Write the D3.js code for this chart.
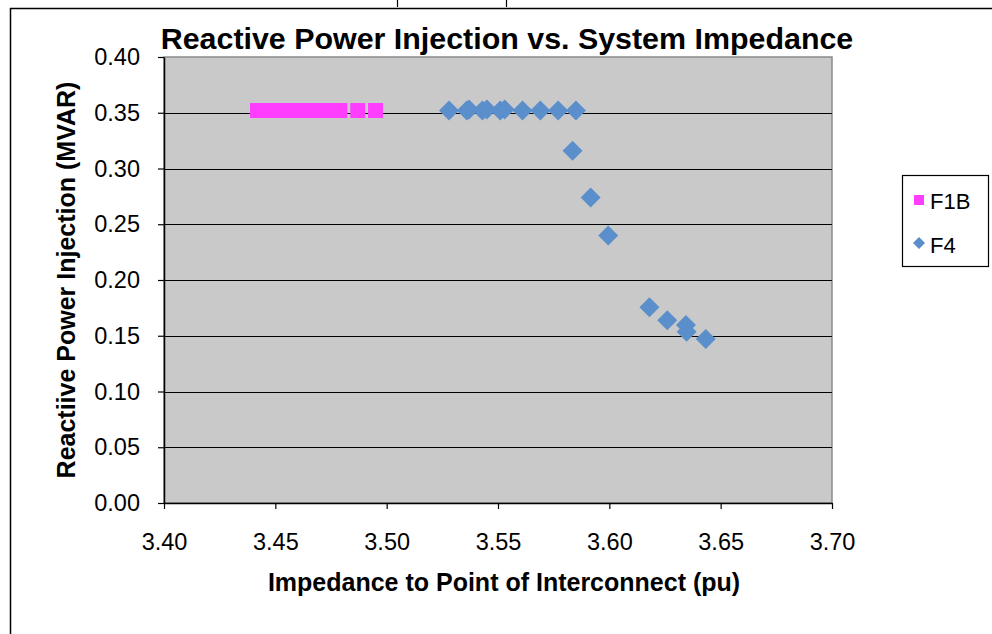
<!DOCTYPE html>
<html>
<head>
<meta charset="utf-8">
<script src="https://cdn.jsdelivr.net/npm/d3@7"></script>
<style>
  html, body { margin: 0; padding: 0; background: #fff; }
  svg { display: block; }
  text { font-family: "Liberation Sans", Arial, sans-serif; fill: #000; }
</style>
</head>
<body>
<svg id="chart" width="992" height="634"></svg>
<script>
// Impedance (pu) and reactive power (MVAR) for each feeder
const f1bImpedance = [3.442, 3.445, 3.448, 3.451, 3.454, 3.457, 3.460, 3.463, 3.466, 3.469, 3.472, 3.475, 3.479, 3.487, 3.495];
const f1bReactive  = [0.352, 0.352, 0.352, 0.352, 0.352, 0.352, 0.352, 0.352, 0.352, 0.352, 0.352, 0.352, 0.352, 0.352, 0.352];

const f4Impedance = [3.528, 3.536, 3.537, 3.543, 3.545, 3.551, 3.553, 3.561, 3.569, 3.577, 3.585, 3.5835, 3.5916, 3.5995, 3.618, 3.626, 3.6344, 3.6347, 3.6433];
const f4Reactive  = [0.352, 0.352, 0.353, 0.352, 0.353, 0.352, 0.353, 0.352, 0.352, 0.352, 0.352, 0.316, 0.274, 0.240, 0.1755, 0.164, 0.1596, 0.1536, 0.147];

const xTicks = [3.40, 3.45, 3.50, 3.55, 3.60, 3.65, 3.70];
const yTicks = [0.00, 0.05, 0.10, 0.15, 0.20, 0.25, 0.30, 0.35, 0.40];

const seriesNames = ["F1B", "F4"];
const seriesColors = ["#ff3dff", "#5b8fcb"];

const svg = d3.select("#chart");

// Outer frame and clipped caption strokes above the chart
svg.append("line").attr("x1", 10.5).attr("x2", 10.5).attr("y1", 8).attr("y2", 634)
  .attr("stroke", "#000").attr("stroke-width", 1.5);
svg.append("line").attr("x1", 10).attr("x2", 992).attr("y1", 8.5).attr("y2", 8.5)
  .attr("stroke", "#000").attr("stroke-width", 1.5);
[397.5, 506.5].forEach(x => {
  svg.append("line").attr("x1", x).attr("x2", x).attr("y1", 0).attr("y2", 7)
    .attr("stroke", "#000").attr("stroke-width", 1.2);
});

const plot = { left: 164, right: 832, top: 57, bottom: 503 };

const x = d3.scaleLinear().domain([3.40, 3.70]).range([plot.left, plot.right]);
const y = d3.scaleLinear().domain([0, 0.40]).range([plot.bottom, plot.top]);

// Plot area
svg.append("rect")
  .attr("x", plot.left).attr("y", plot.top)
  .attr("width", plot.right - plot.left).attr("height", plot.bottom - plot.top)
  .attr("fill", "#c9c9c9").attr("stroke", "#8a8a8a").attr("stroke-width", 1.5);

// Horizontal gridlines
svg.append("g").selectAll("line")
  .data(yTicks.filter(t => t > 0 && t < 0.40))
  .join("line")
  .attr("x1", plot.left).attr("x2", plot.right)
  .attr("y1", d => Math.round(y(d)) + 0.5).attr("y2", d => Math.round(y(d)) + 0.5)
  .attr("stroke", "#000").attr("stroke-width", 1.2);

// Axes
const xAxis = d3.axisBottom(x).tickValues(xTicks).tickFormat(d3.format(".2f"))
  .tickSize(6).tickSizeOuter(0).tickPadding(24);
const yAxis = d3.axisLeft(y).tickValues(yTicks).tickFormat(d3.format(".2f"))
  .tickSize(6).tickSizeOuter(0).tickPadding(18);

const gx = svg.append("g").attr("transform", `translate(0,${plot.bottom})`).call(xAxis);
const gy = svg.append("g").attr("transform", `translate(${plot.left},0)`).call(yAxis);

[gx, gy].forEach(g => {
  g.attr("font-size", null).attr("font-family", null);
  g.select(".domain").attr("stroke", "#000").attr("stroke-width", 1.5);
  g.selectAll(".tick line").attr("stroke", "#000").attr("stroke-width", 1.2);
  g.selectAll(".tick text")
    .style("font-family", "'Liberation Sans', Arial, sans-serif")
    .style("font-size", "23.5px").attr("fill", "#000");
});

// F1B squares
const sq = 15;
svg.append("g").selectAll("rect")
  .data(f1bImpedance.map((v, i) => [v, f1bReactive[i]]))
  .join("rect")
  .attr("x", d => x(d[0]) - sq / 2).attr("y", d => y(d[1]) - sq / 2)
  .attr("width", sq).attr("height", sq)
  .attr("fill", seriesColors[0]);

// F4 diamonds
const dr = 10;
const diamond = (cx, cy, r) => `M${cx},${cy - r}L${cx + r},${cy}L${cx},${cy + r}L${cx - r},${cy}Z`;
svg.append("g").selectAll("path")
  .data(f4Impedance.map((v, i) => [v, f4Reactive[i]]))
  .join("path")
  .attr("d", d => diamond(x(d[0]), y(d[1]), dr))
  .attr("fill", seriesColors[1]);

// Title
svg.append("text")
  .attr("x", 507).attr("y", 49)
  .attr("text-anchor", "middle")
  .style("font-size", "30.4px").attr("font-weight", "bold")
  .text("Reactive Power Injection vs. System Impedance");

// Axis titles
svg.append("text")
  .attr("x", 504).attr("y", 591)
  .attr("text-anchor", "middle")
  .style("font-size", "25px").attr("font-weight", "bold")
  .text("Impedance to Point of Interconnect (pu)");

svg.append("text")
  .attr("transform", "translate(75,280) rotate(-90)")
  .attr("text-anchor", "middle")
  .style("font-size", "25px").attr("font-weight", "bold")
  .text("Reactiive Power Injection (MVAR)");

// Legend
const legend = svg.append("g");
legend.append("rect")
  .attr("x", 902.5).attr("y", 175.5).attr("width", 86).attr("height", 91)
  .attr("fill", "#fff").attr("stroke", "#000").attr("stroke-width", 1.2);

const legendY = [201, 245];
legend.append("rect")
  .attr("x", 914).attr("y", legendY[0] - 6).attr("width", 10).attr("height", 10)
  .attr("fill", seriesColors[0]);
legend.append("path")
  .attr("d", diamond(919, legendY[1] - 2, 6))
  .attr("fill", seriesColors[1]);

seriesNames.forEach((name, i) => {
  legend.append("text")
    .attr("x", 930).attr("y", legendY[i] + 8)
    .style("font-size", "22px")
    .text(name);
});
</script>
</body>
</html>
